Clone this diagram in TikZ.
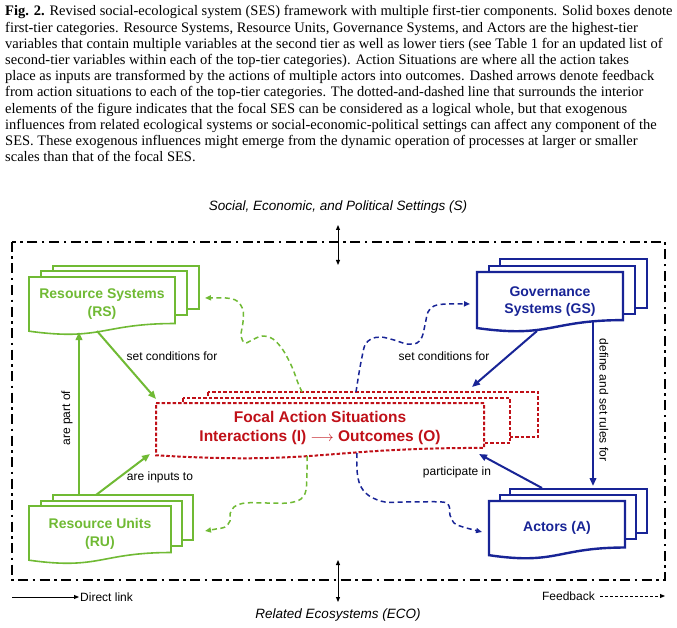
\documentclass[tikz,border=0pt]{standalone}
\usepackage{fontspec}
\setmainfont{Liberation Serif}
\setsansfont{Liberation Sans}
\usetikzlibrary{arrows.meta}
\definecolor{sesgreen}{RGB}{112,186,52}
\definecolor{sesblue}{RGB}{24,36,150}
\definecolor{sesred}{RGB}{192,16,24}
\newcommand{\sesdoc}[5]{%
  \draw[#1] (#2,#4) -- (#3,#4) -- (#3,{#4+0.802*#5})
    .. controls ({(#2+#3)/2},{#4+0.802*#5}) and ({(#2+#3)/2},{#4+1.107*#5}) .. (#2,{#4+0.934*#5}) -- cycle;}
\begin{document}
\begin{tikzpicture}[x=1pt,y=-1pt,
  capline/.style={anchor=base west,inner sep=0pt,font=\fontsize{14.5}{16}\selectfont},
  greenbox/.style={draw=sesgreen,line width=1.6pt,fill=white},
  bluebox/.style={draw=sesblue,line width=2.4pt,fill=white},
  redbox/.style={draw=sesred,line width=2pt,fill=white,dash pattern=on 3.5pt off 2pt},
  greentitle/.style={text=sesgreen,align=center,font=\fontsize{14}{18}\selectfont\sffamily\bfseries},
  bluetitle/.style={text=sesblue,align=center,font=\fontsize{14}{17}\selectfont\sffamily\bfseries},
  redtitle/.style={text=sesred,align=center,font=\fontsize{15.5}{19}\selectfont\sffamily\bfseries},
  lbl/.style={font=\fontsize{12}{14}\selectfont\sffamily,inner sep=1pt},
  outer/.style={font=\fontsize{13.5}{16}\selectfont\sffamily\itshape,inner sep=0pt},
  greenlink/.style={draw=sesgreen,line width=2pt,-{Triangle[length=8pt,width=6.5pt]}},
  bluelink/.style={draw=sesblue,line width=2pt,-{Triangle[length=8pt,width=6.5pt]}},
  greenfb/.style={draw=sesgreen,line width=1.5pt,dash pattern=on 5pt off 3.5pt,-{Triangle[length=6pt,width=5pt]}},
  bluefb/.style={draw=sesblue,line width=1.5pt,dash pattern=on 5pt off 3.5pt,-{Triangle[length=6pt,width=5pt]}},
  twoway/.style={draw=black,line width=1pt,{Triangle[length=5pt,width=4pt]}-{Triangle[length=5pt,width=4pt]}},
  border/.style={draw=black,line width=2.4pt,dash pattern=on 10pt off 4.5pt on 2.5pt off 4.5pt}
]
\useasboundingbox (0,0) rectangle (677,628);
\fill[white] (0,0) rectangle (677,628);

% caption
\node[capline] (c1) at (5,16) {\textbf{Fig. 2.} Revised social-ecological system (SES) framework with multiple first-tier components. Solid boxes denote};
\node[capline] (c2) at (5,32.2) {first-tier categories. Resource Systems, Resource Units, Governance Systems, and Actors are the highest-tier};
\node[capline] (c3) at (5,48.4) {variables that contain multiple variables at the second tier as well as lower tiers (see Table 1 for an updated list of};
\node[capline] (c4) at (5,64.6) {second-tier variables within each of the top-tier categories). Action Situations are where all the action takes};
\node[capline] (c5) at (5,80.8) {place as inputs are transformed by the actions of multiple actors into outcomes. Dashed arrows denote feedback};
\node[capline] (c6) at (5,97) {from action situations to each of the top-tier categories. The dotted-and-dashed line that surrounds the interior};
\node[capline] (c7) at (5,113.2) {elements of the figure indicates that the focal SES can be considered as a logical whole, but that exogenous};
\node[capline] (c8) at (5,129.4) {influences from related ecological systems or social-economic-political settings can affect any component of the};
\node[capline] (c9) at (5,145.6) {SES. These exogenous influences might emerge from the dynamic operation of processes at larger or smaller};
\node[capline] (c10) at (5,161.8) {scales than that of the focal SES.};

% outer settings
\node[outer] (S) at (338,207) {Social, Economic, and Political Settings (S)};
\node[outer] (ECO) at (338,615) {Related Ecosystems (ECO)};
\coordinate (Sa) at (338,225); \coordinate (Sb) at (338,265);
\coordinate (Ea) at (338,560); \coordinate (Eb) at (338,602);
\draw[border] (12,242) rectangle (665,580);
\draw[twoway] (Sa) -- (Sb);
\draw[twoway] (Ea) -- (Eb);

% Resource Systems
\draw[greenbox] (53,266) rectangle (199,309);
\draw[greenbox] (41,271) rectangle (187,315);
\sesdoc{greenbox}{29}{175}{277}{58}
\node[greentitle] (RS) at (102,304) {Resource Systems\\(RS)};

% Resource Units
\draw[greenbox] (53,495) rectangle (193,540);
\draw[greenbox] (41,501) rectangle (182,546);
\sesdoc{greenbox}{29}{171}{506}{58}
\node[greentitle] (RU) at (100,533.5) {Resource Units\\(RU)};

% Governance Systems
\draw[bluebox] (500,259) rectangle (647,308);
\draw[bluebox] (489,266) rectangle (635,314);
\sesdoc{bluebox}{477}{623}{272}{60}
\node[bluetitle] (GS) at (550,301.5) {Governance\\Systems (GS)};

% Actors
\draw[bluebox] (510,489) rectangle (647,533);
\draw[bluebox] (500,495) rectangle (636,539);
\sesdoc{bluebox}{489}{625}{501}{58}
\node[bluetitle] (A) at (557,528) {Actors (A)};

% Focal action situations
\draw[redbox] (208,392) rectangle (538,437);
\draw[redbox] (183,398) rectangle (510,443);
\sesdoc{redbox}{156}{484}{403}{56}
\node[redtitle] (FAS) at (320,427.5) {Focal Action Situations\\Interactions (I) \(\longrightarrow\) Outcomes (O)};

% anchors for links
\coordinate (RSbot) at (97,331);
\coordinate (RSbotv) at (79,332);
\coordinate (RUtop) at (79,495);
\coordinate (RUtop2) at (96,495);
\coordinate (FASnw) at (156,399);
\coordinate (FASsw) at (150,454);
\coordinate (GSbot) at (537,331);
\coordinate (GSbotv) at (593,321);
\coordinate (Atop) at (593,486);
\coordinate (Atop2) at (542,488);
\coordinate (FASne) at (472,387);
\coordinate (FASse) at (479,454);

% direct links
\draw[greenlink] (RSbot) -- (FASnw);
\node[lbl] (l1) at (172,356) {set conditions for};
\draw[greenlink] (RUtop) -- (RSbotv);
\node[lbl,rotate=90] (l2) at (67,418) {are part of};
\draw[greenlink] (RUtop2) -- (FASsw);
\node[lbl] (l3) at (160,477) {are inputs to};
\draw[bluelink] (GSbot) -- (FASne);
\node[lbl] (l4) at (444,356) {set conditions for};
\draw[bluelink] (GSbotv) -- (Atop);
\node[lbl,rotate=-90] (l5) at (604,400) {define and set rules for};
\draw[bluelink] (Atop2) -- (FASse);
\node[lbl] (l6) at (457,472) {participate in};

% feedback
\coordinate (fb1s) at (302,392);
\coordinate (fb2s) at (307,456);
\coordinate (fb3s) at (356,392);
\coordinate (fb4s) at (357,453);
\draw[greenfb] plot[smooth,tension=0.55] coordinates {(fb1s) (298,383) (292,367) (283,350) (273,339) (262,336) (252,340) (245,343) (241,336) (243,322) (243,310) (237,301) (226,298) (205,298)};
\draw[greenfb] plot[smooth,tension=0.55] coordinates {(fb2s) (307,470) (306,490) (301,499) (288,503) (267,503) (245,503) (234,507) (230,514) (230,521) (225,527) (216,529) (205,531)};
\draw[bluefb] plot[smooth,tension=0.55] coordinates {(fb3s) (359,373) (362,357) (365,345) (371,339) (381,337) (394,340) (407,344) (417,343) (422,337) (425,325) (428,312) (434,306) (446,304) (470,304)};
\draw[bluefb] plot[smooth,tension=0.55] coordinates {(fb4s) (357,470) (359,482) (363,490) (371,497) (385,502) (405,502) (442,502) (449,506) (450,515) (454,523) (463,527) (482,532)};

% legend
\coordinate (dl1) at (12,597); \coordinate (dl2) at (79,597);
\draw[line width=0.9pt,-{Triangle[length=5pt,width=4pt]}] (dl1) -- (dl2);
\node[lbl,anchor=west,inner sep=0pt] (dl) at (80,597) {Direct link};
\node[lbl,anchor=east,inner sep=0pt] (fbl) at (595,596) {Feedback};
\coordinate (fl1) at (600,596); \coordinate (fl2) at (665,596);
\draw[line width=0.9pt,dash pattern=on 3pt off 2pt,-{Triangle[length=5pt,width=4pt]}] (fl1) -- (fl2);
\end{tikzpicture}
\end{document}
